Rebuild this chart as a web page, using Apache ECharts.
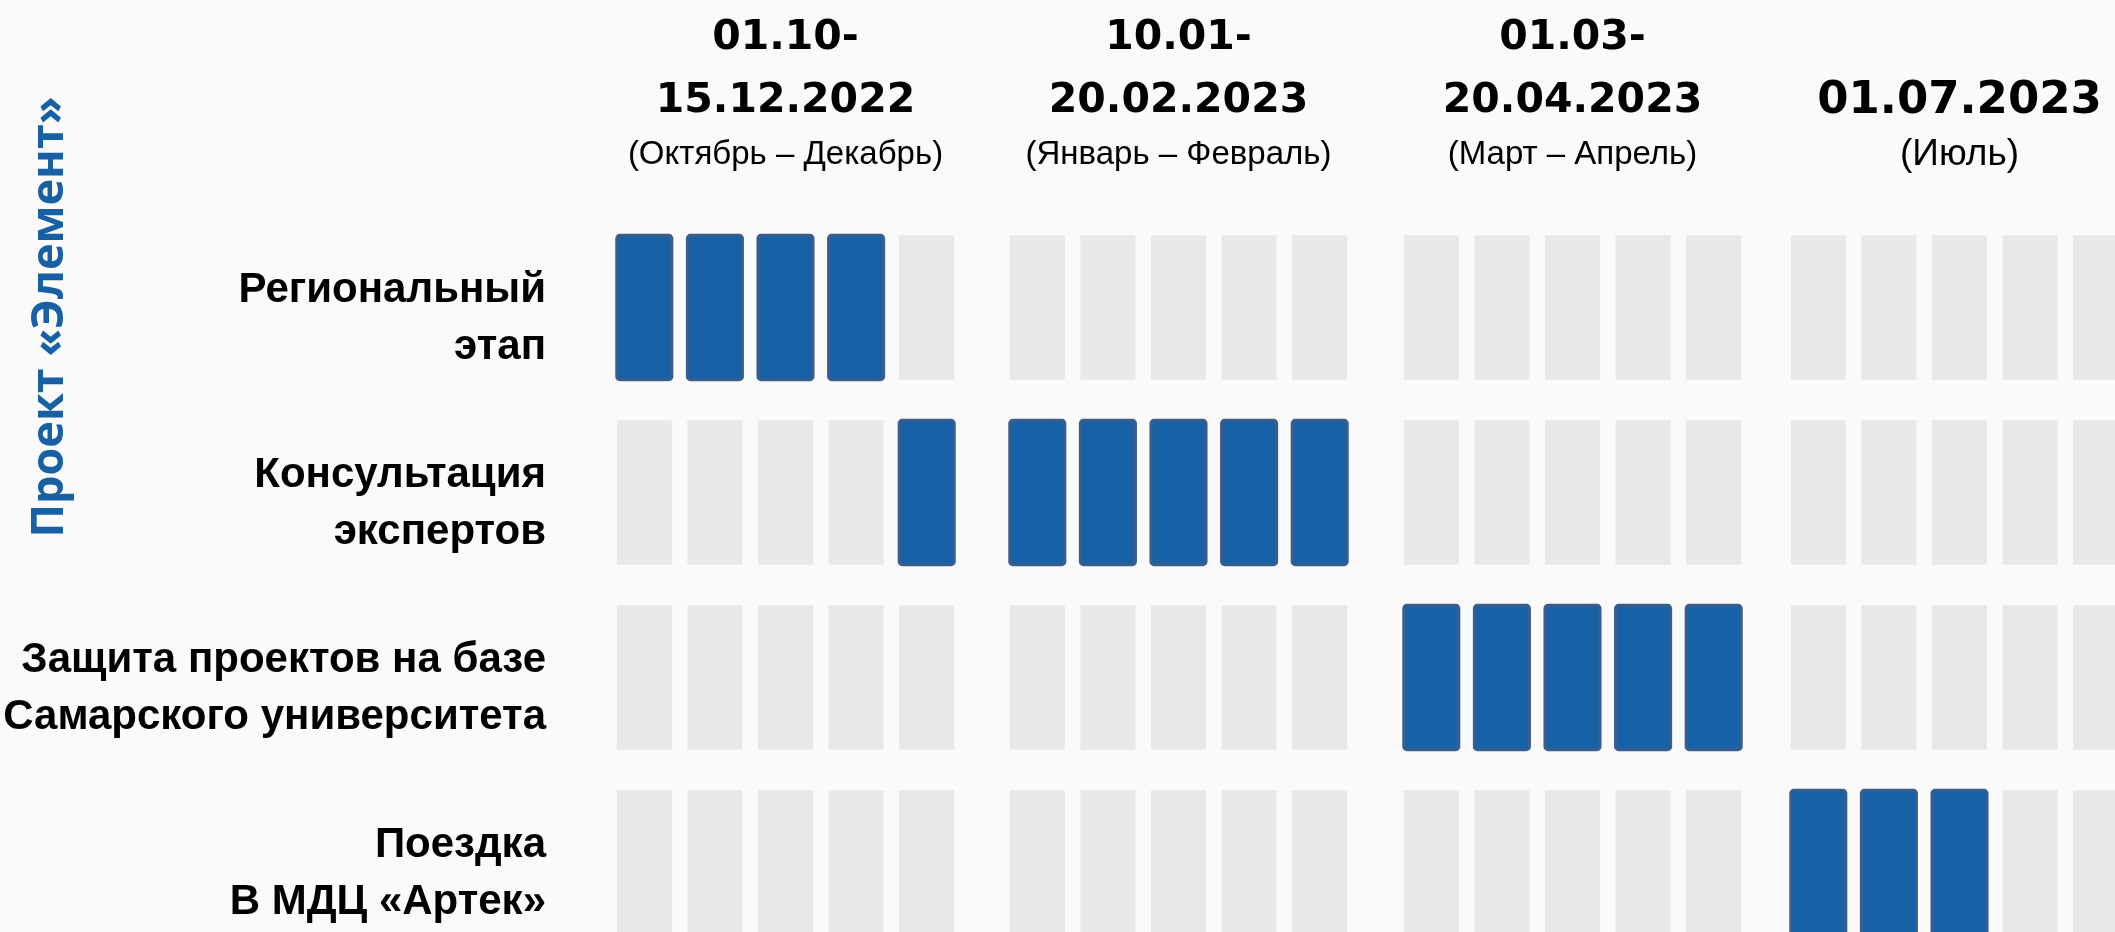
<!DOCTYPE html>
<html>
<head>
<meta charset="utf-8">
<script src="https://cdn.jsdelivr.net/npm/echarts@6/dist/echarts.min.js"></script>
<style>
    html, body { margin: 0; padding: 0; background: #fafafa; }
    #chart { width: 2115px; height: 932px; }
</style>
</head>
<body>
<div id="chart"></div>
<script>
var projectTitle = 'Проект «Элемент»';
var tasks = ['Региональный\nэтап', 'Консультация\nэкспертов', 'Защита проектов на базе\nСамарского университета', 'Поездка\nВ МДЦ «Артек»'];
var periodDates = [['01.10-', '15.12.2022'], ['10.01-', '20.02.2023'], ['01.03-', '20.04.2023'], ['01.07.2023']];
var periodMonths = ['(Октябрь – Декабрь)', '(Январь – Февраль)', '(Март – Апрель)', '(Июль)'];
var cells = ['1', '2', '3', '4', '5'];
// 1 = этап идёт, по 5 клеток на каждый период
var schedule = [
    [1, 1, 1, 1, 0, 0, 0, 0, 0, 0, 0, 0, 0, 0, 0, 0, 0, 0, 0, 0],
    [0, 0, 0, 0, 1, 1, 1, 1, 1, 1, 0, 0, 0, 0, 0, 0, 0, 0, 0, 0],
    [0, 0, 0, 0, 0, 0, 0, 0, 0, 0, 1, 1, 1, 1, 1, 0, 0, 0, 0, 0],
    [0, 0, 0, 0, 0, 0, 0, 0, 0, 0, 0, 0, 0, 0, 0, 1, 1, 1, 0, 0]
];

var gridLefts = [609, 1002, 1396, 1783];

function renderCell(params, api) {
    var c = api.coord([api.value(0), api.value(1)]);
    var s = api.size([1, 1]);
    var w = s[0] * 0.78, h = s[1] * 0.78;
    var on = api.value(2) === 1;
    return {
        type: 'rect',
        shape: { x: c[0] - w / 2, y: c[1] - h / 2, width: w, height: h, r: on ? 3 : 0 },
        style: on ? { fill: '#1762a7', stroke: '#3b5d8c', lineWidth: 3 } : { fill: '#e8e8e8' }
    };
}

var myChart = echarts.init(document.getElementById('chart'));

var grids = [], xAxes = [], yAxes = [], series = [];
for (let p = 0; p < periodDates.length; p++) {
    grids.push({ left: gridLefts[p], top: 215, width: 353, height: 740, outerBoundsMode: 'none' });

    // одиночная дата набрана крупнее
    var single = periodDates[p].length === 1;
    var name = periodDates[p].map(function (d) { return '{' + (single ? 'D' : 'd') + '|' + d + '}'; }).join('\n') +
        '\n{' + (single ? 'S' : 's') + '|' + periodMonths[p] + '}';
    xAxes.push({
        type: 'category', gridIndex: p, data: cells, position: 'top',
        axisLine: { show: false }, axisTick: { show: false }, axisLabel: { show: false },
        splitLine: { show: false },
        name: name, nameLocation: 'middle', nameGap: 38,
        nameTextStyle: {
            color: '#000',
            rich: {
                d: { fontFamily: 'DejaVu Sans', fontWeight: 'bold', fontSize: 41, lineHeight: 63, color: '#000' },
                D: { fontFamily: 'DejaVu Sans', fontWeight: 'bold', fontSize: 45, lineHeight: 63, color: '#000' },
                s: { fontFamily: 'Liberation Sans', fontSize: 33, lineHeight: 44, color: '#000' },
                S: { fontFamily: 'Liberation Sans', fontSize: 37, lineHeight: 44, color: '#000' }
            }
        }
    });
    yAxes.push({
        type: 'category', gridIndex: p, data: tasks, inverse: true,
        axisLine: { show: false }, axisTick: { show: false }, splitLine: { show: false },
        axisLabel: {
            show: p === 0, margin: 63, align: 'right',
            // пустая строка сверху опускает подпись чуть ниже центра ряда
            formatter: function (v) {
                return '{g| }\n' + v.split('\n').map(function (l) { return '{t|' + l + '}'; }).join('\n');
            },
            rich: {
                g: { fontSize: 10, lineHeight: 22 },
                t: { fontFamily: 'Liberation Sans', fontWeight: 'bold', fontSize: 42, lineHeight: 57, color: '#000', align: 'right' }
            }
        }
    });

    var data = [];
    for (let r = 0; r < tasks.length; r++) {
        for (let i = 0; i < cells.length; i++) {
            data.push([i, r, schedule[r][p * cells.length + i]]);
        }
    }
    series.push({
        type: 'custom', xAxisIndex: p, yAxisIndex: p,
        renderItem: renderCell, data: data, clip: false, silent: true
    });
}

var option = {
    backgroundColor: '#fafafa',
    animation: false,
    grid: grids,
    xAxis: xAxes,
    yAxis: yAxes,
    series: series,
    graphic: [{
        type: 'text', x: 50, y: 317, rotation: Math.PI / 2,
        style: {
            text: projectTitle, fill: '#1760a3',
            font: 'bold 45px "Open Sans"', align: 'center', verticalAlign: 'middle'
        }
    }]
};
myChart.setOption(option);
</script>
</body>
</html>
